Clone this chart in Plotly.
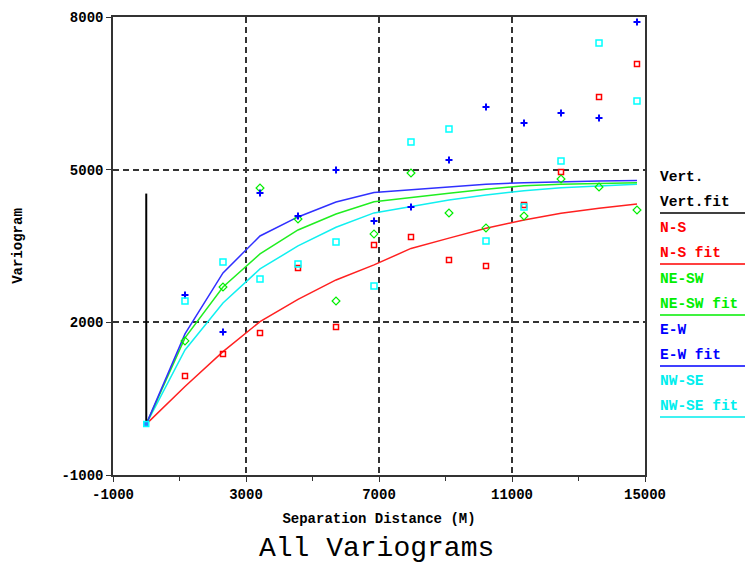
import plotly.graph_objects as go

# ---------------- data ----------------
lags = [1165, 2308, 3421, 4564, 5707, 6850, 7962, 9105, 10218, 11361, 12474, 13617, 14759]

ns_pts = [947, 1379, 1792, 3069, 1910, 3521, 3678, 3226, 3108, 4307, 4955, 6428, 7077]
nesw_pts = [1635, 2695, 4640, 4031, 2420, 3737, 4935, 4149, 3855, 4090, 4817, 4660, 4208]
ew_pts = [2538, 1811, 4542, 4090, 4994, 3992, 4267, 5191, 6232, 5917, 6114, 6016, 7902]
nwse_pts = [2420, 3187, 2853, 3147, 3580, 2715, 5544, 5800, 3599, 4267, 5171, 7489, 6350]

fit_x = [0] + lags
ns_fit = [0, 740, 1425, 2013, 2450, 2833, 3128, 3452, 3655, 3847, 4012, 4143, 4242, 4326]
nesw_fit = [0, 1694, 2695, 3344, 3815, 4130, 4370, 4458, 4536, 4614, 4686, 4713, 4732, 4745]
ew_fit = [0, 1772, 2971, 3697, 4071, 4365, 4550, 4601, 4666, 4713, 4745, 4765, 4778, 4785]
nwse_fit = [0, 1458, 2381, 3049, 3501, 3868, 4150, 4273, 4405, 4503, 4588, 4647, 4686, 4713]

vert_fit_x = [0, 0]
vert_fit_y = [0, 4530]
origin_x = [0]
origin_y = [0]

x_ticks = [-1000, 3000, 7000, 11000, 15000]
y_ticks = [-1000, 2000, 5000, 8000]

legend_labels = ["Vert.", "N-S", "NE-SW", "E-W", "NW-SE"]
colors = ["#000000", "#ff0000", "#00ee00", "#0000ff", "#00eeee"]

# ---------------- layout geometry ----------------
W, H = 747, 565
L, R, T, B = 113, 645, 17, 475
XMIN, XMAX, YMIN, YMAX = -1000, 15000, -1000, 8000


def px2data(px, py):
    return (XMIN + (px - L) / (R - L) * (XMAX - XMIN),
            YMIN + (B - py) / (B - T) * (YMAX - YMIN))


def px2paper(px, py):
    return ((px - L) / (R - L), (B - py) / (B - T))


MONO = "Liberation Mono"
fig = go.Figure()

# fit lines
for fx, fy, c in [(fit_x, ns_fit, "#ff2020"), (fit_x, nwse_fit, "#10f0f0"),
                  (fit_x, nesw_fit, "#20ee20"), (fit_x, ew_fit, "#3030ff")]:
    fig.add_trace(go.Scatter(x=fx, y=fy, mode="lines", line=dict(color=c, width=1.5),
                             showlegend=False, hoverinfo="skip"))
fig.add_trace(go.Scatter(x=vert_fit_x, y=vert_fit_y, mode="lines",
                         line=dict(color="black", width=2), showlegend=False))

# data points
fig.add_trace(go.Scatter(x=lags, y=ns_pts, mode="markers",
                         marker=dict(symbol="square-open", size=5, color="#ff0000", line=dict(width=1.5)),
                         showlegend=False))
fig.add_trace(go.Scatter(x=lags, y=nesw_pts, mode="markers",
                         marker=dict(symbol="diamond-open", size=6, color="#00ee00", line=dict(width=1.2)),
                         showlegend=False))
fig.add_trace(go.Scatter(x=lags, y=ew_pts, mode="markers",
                         marker=dict(symbol="cross-thin", size=5, color="#0000ff", line=dict(width=2, color="#0000ff")),
                         showlegend=False))
fig.add_trace(go.Scatter(x=lags, y=nwse_pts, mode="markers",
                         marker=dict(symbol="square-open", size=6, color="#00ffff", line=dict(width=1.5)),
                         showlegend=False))
fig.add_trace(go.Scatter(x=origin_x, y=origin_y, mode="markers",
                         marker=dict(symbol="square", size=5, color="#3080ff",
                                     line=dict(width=1.5, color="#00ffff")),
                         showlegend=False))

# custom legend
annotations = []
shapes = []
row_top = 177
row_step = 51
leg_syms = ["line-ne", "square-open", "diamond-open", "cross-thin", "square-open"]
for i, (lab, c) in enumerate(zip(legend_labels, colors)):
    y0 = row_top + i * row_step
    fit_lab = "Vert.fit" if i == 0 else lab + " fit"
    for txt, yy in [(lab, y0), (fit_lab, y0 + 25)]:
        xp, yp = px2paper(658, yy)
        annotations.append(dict(x=xp, y=yp, xref="paper", yref="paper", text=txt,
                                showarrow=False, xanchor="left", yanchor="middle",
                                font=dict(family=MONO, size=14.5, color=c, weight="bold")))
    xa, ya = px2paper(660, y0 + 36)
    xb, _ = px2paper(745, y0 + 36)
    shapes.append(dict(type="line", xref="paper", yref="paper", x0=xa, x1=xb, y0=ya, y1=ya,
                       line=dict(color=c, width=1.5)))
    mx, my = px2data(651, y0 + 11)
    fig.add_trace(go.Scatter(x=[mx], y=[my], mode="markers", cliponaxis=False,
                             marker=dict(symbol=leg_syms[i], size=4, color=c,
                                         line=dict(width=1.3, color=c)),
                             showlegend=False))

# title
annotations.append(dict(x=(376 - L) / (R - L), y=(B - 548) / (B - T), xref="paper", yref="paper",
                        text="All Variograms", showarrow=False, xanchor="center",
                        yanchor="middle", font=dict(family=MONO, size=28, color="black")))

fig.update_layout(
    width=W, height=H, autosize=False,
    margin=dict(l=L, r=W - R, t=T, b=H - B, pad=0, autoexpand=False),
    paper_bgcolor="white", plot_bgcolor="white",
    annotations=annotations, shapes=shapes,
    xaxis=dict(range=[XMIN, XMAX], tickvals=x_ticks, ticktext=[str(v) for v in x_ticks],
               showgrid=True, gridcolor="#333333", gridwidth=1.5, griddash="6px,4px",
               zeroline=False, showline=True, linecolor="#333333", linewidth=1.5, mirror=True,
               ticks="outside", ticklen=5, tickcolor="#333333", automargin=False,
               minor=dict(tickvals=[1000, 5000, 9000, 13000], ticks="outside", ticklen=4,
                          tickcolor="#333333", showgrid=False),
               tickfont=dict(family=MONO, size=14, color="black", weight="bold"),
               title=dict(text="Separation Distance (M)", standoff=12,
                          font=dict(family=MONO, size=14, color="black", weight="bold"))),
    yaxis=dict(range=[YMIN, YMAX], tickvals=y_ticks, ticktext=[str(v) for v in y_ticks],
               showgrid=True, gridcolor="#333333", gridwidth=1.5, griddash="6px,4px",
               zeroline=False, showline=True, linecolor="#333333", linewidth=1.5, mirror=True,
               ticks="outside", ticklen=5, tickcolor="#333333", automargin=False,
               tickfont=dict(family=MONO, size=14, color="black", weight="bold"),
               title=dict(text="Variogram", standoff=36,
                          font=dict(family=MONO, size=14, color="black", weight="bold"))),
)

fig.write_html("out.html", config={"displayModeBar": False},
               post_script="document.body.style.margin='0';")
